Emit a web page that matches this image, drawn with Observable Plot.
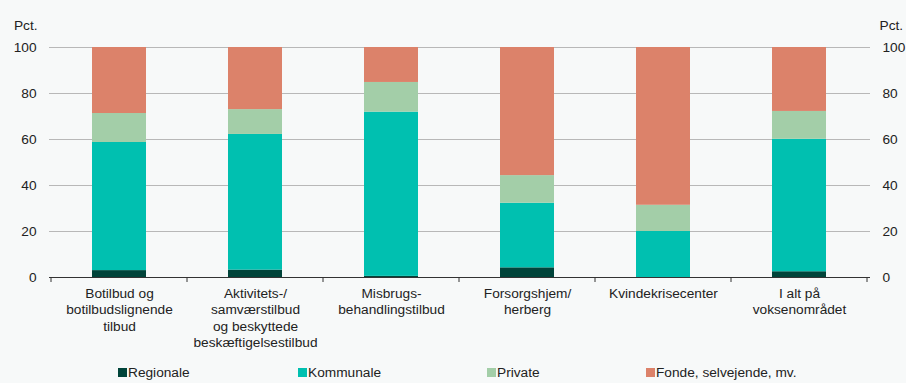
<!DOCTYPE html>
<html>
<head>
<meta charset="utf-8">
<script src="https://cdn.jsdelivr.net/npm/d3@7"></script>
<script src="https://cdn.jsdelivr.net/npm/@observablehq/plot@0.6"></script>
<style>
  html, body { margin: 0; padding: 0; background: #f7f9f9; }
  body { width: 906px; height: 383px; overflow: hidden; font-family: "Liberation Sans", Arial, sans-serif; }
  #legend { position: relative; height: 21px; font-size: 13.7px; color: #222; }
  #legend .item { position: absolute; top: 0; line-height: 21px; white-space: nowrap; }
  #legend .sw { display: inline-block; width: 9px; height: 9px; margin-right: 1px; vertical-align: 0px; }
</style>
</head>
<body>
<div id="chart"></div>
<div id="legend"></div>
<script>
const categories = [
  "Botilbud og\nbotilbudslignende\ntilbud",
  "Aktivitets-/\nsamværstilbud\nog beskyttede\nbeskæftigelsestilbud",
  "Misbrugs-\nbehandlingstilbud",
  "Forsorgshjem/\nherberg",
  "Kvindekrisecenter",
  "I alt på\nvoksenområdet"
];
const seriesNames = ["Regionale", "Kommunale", "Private", "Fonde, selvejende, mv."];
const regionale = [3.0, 3.2, 0.5, 4.2, 0.0, 2.5];
const kommunale = [55.7, 59.0, 71.4, 28.1, 20.0, 57.6];
const privat    = [12.6, 10.8, 12.9, 12.0, 11.4, 12.1];
const fonde     = [28.7, 27.0, 15.2, 55.7, 68.6, 27.8];
const yTicks = [0, 20, 40, 60, 80, 100];
const colors = ["#00443a", "#00c0b0", "#a3cea8", "#dc826a"];

const seriesValues = [regionale, kommunale, privat, fonde];
const table = [];
seriesNames.forEach((s, si) => {
  categories.forEach((c, ci) => table.push({category: c, series: s, value: seriesValues[si][ci]}));
});

// ticks at band boundaries, derived from the band scale
function boundaryTicks(index, scales, values, dims) {
  const x = scales.x;
  const step = x.step();
  const bw = x.bandwidth();
  const y0 = scales.y(0);
  const g = d3.create("svg:g");
  const xs = categories.map(c => x(c) - (step - bw) / 2);
  xs.push(x(categories[categories.length - 1]) + bw + (step - bw) / 2);
  xs.forEach(px => {
    g.append("line").attr("x1", px).attr("x2", px).attr("y1", y0).attr("y2", y0 + 5)
      .attr("stroke", "#333").attr("stroke-width", 1);
  });
  return g.node();
}

const FS = 13.7;
const chart = Plot.plot({
  width: 906,
  height: 362,
  marginTop: 47,
  marginBottom: 85,
  marginLeft: 49,
  marginRight: 36,
  style: {background: "transparent", fontFamily: "Liberation Sans, Arial, sans-serif", fontSize: FS + "px", color: "#222"},
  x: {domain: categories, paddingInner: 0.6, paddingOuter: 0.3, label: null},
  y: {domain: [0, 100], label: null},
  color: {domain: seriesNames, range: colors},
  marks: [
    Plot.ruleY(yTicks.filter(d => d > 0), {stroke: "#b8b8b8", strokeWidth: 1.2}),
    Plot.barY(table, {x: "category", y: "value", fill: "series"}),
    Plot.ruleY([0], {stroke: "#333", strokeWidth: 1.2}),
    boundaryTicks,
    Plot.axisY({anchor: "left", ticks: yTicks, tickSize: 0, tickPadding: 13, label: null, fontSize: FS}),
    Plot.axisY({anchor: "right", ticks: yTicks, tickSize: 0, tickPadding: 12, label: null, fontSize: FS}),
    Plot.axisX({tickSize: 0, tickPadding: 9, lineHeight: 1.19, fontSize: FS, label: null}),
    Plot.text(["Pct."], {frameAnchor: "top-left", textAnchor: "end", dx: -12, dy: -27, fontSize: FS}),
    Plot.text(["Pct."], {frameAnchor: "top-right", textAnchor: "start", dx: 9, dy: -27, fontSize: FS})
  ]
});
document.getElementById("chart").appendChild(chart);

const legendLefts = [118, 298, 487, 646];
const legend = document.getElementById("legend");
seriesNames.forEach((s, i) => {
  const item = document.createElement("div");
  item.className = "item";
  item.style.left = legendLefts[i] + "px";
  item.innerHTML = `<span class="sw" style="background:${colors[i]}"></span>${s}`;
  legend.appendChild(item);
});
</script>
</body>
</html>
